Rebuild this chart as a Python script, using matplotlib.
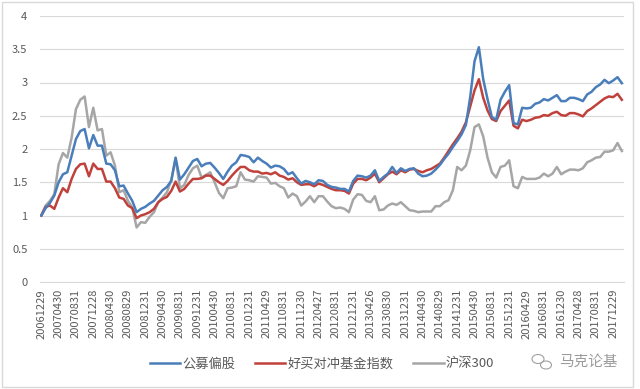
import matplotlib
matplotlib.use("Agg")
import matplotlib.pyplot as plt
from matplotlib.patches import Rectangle, Ellipse
import numpy as np

plt.rcParams['font.family'] = ['Noto Sans CJK SC', 'DejaVu Sans']

series_names = ["公募偏股", "好买对冲基金指数", "沪深300"]

tick_labels = ["20061229", "20070430", "20070831", "20071228", "20080430", "20080829",
               "20081231", "20090430", "20090831", "20091231", "20100430", "20100831",
               "20101231", "20110429", "20110831", "20111230", "20120427", "20120831",
               "20121231", "20130426", "20130830", "20131231", "20140430", "20140829",
               "20141231", "20150430", "20150831", "20151231", "20160429", "20160831",
               "20161230", "20170428", "20170831", "20171229"]

gongmu = [1.00, 1.11, 1.19, 1.30, 1.50, 1.62, 1.65, 1.90, 2.15, 2.27, 2.30, 2.01, 2.21, 2.05,
          2.05, 1.78, 1.77, 1.68, 1.44, 1.45, 1.33, 1.22, 1.05, 1.10, 1.13, 1.18, 1.22, 1.30,
          1.38, 1.43, 1.52, 1.87, 1.54, 1.62, 1.72, 1.82, 1.85, 1.74, 1.78, 1.79, 1.72, 1.64,
          1.55, 1.66, 1.75, 1.80, 1.91, 1.90, 1.88, 1.80, 1.87, 1.82, 1.78, 1.72, 1.75, 1.74,
          1.70, 1.62, 1.65, 1.56, 1.48, 1.52, 1.50, 1.47, 1.53, 1.52, 1.46, 1.43, 1.42, 1.40,
          1.40, 1.36, 1.52, 1.60, 1.59, 1.57, 1.60, 1.68, 1.52, 1.58, 1.63, 1.73, 1.64, 1.71,
          1.67, 1.70, 1.71, 1.63, 1.59, 1.60, 1.63, 1.69, 1.76, 1.85, 1.93, 2.03, 2.12, 2.22,
          2.36, 2.78, 3.32, 3.53, 3.05, 2.75, 2.48, 2.44, 2.74, 2.86, 2.96, 2.39, 2.37, 2.62,
          2.61, 2.62, 2.68, 2.70, 2.75, 2.73, 2.77, 2.81, 2.72, 2.72, 2.77, 2.77, 2.75, 2.72,
          2.82, 2.86, 2.93, 2.97, 3.04, 2.99, 3.03, 3.08, 2.99]

haomai = [1.00, 1.13, 1.15, 1.10, 1.27, 1.41, 1.35, 1.55, 1.70, 1.77, 1.78, 1.59, 1.78, 1.70,
          1.70, 1.51, 1.51, 1.41, 1.27, 1.25, 1.15, 1.11, 0.96, 1.00, 1.02, 1.05, 1.10, 1.20,
          1.25, 1.28, 1.37, 1.51, 1.36, 1.40, 1.48, 1.55, 1.55, 1.56, 1.60, 1.60, 1.55, 1.50,
          1.46, 1.52, 1.60, 1.67, 1.73, 1.73, 1.68, 1.66, 1.66, 1.63, 1.64, 1.62, 1.65, 1.60,
          1.58, 1.54, 1.56, 1.50, 1.46, 1.47, 1.47, 1.44, 1.48, 1.46, 1.43, 1.40, 1.38, 1.38,
          1.37, 1.33, 1.48, 1.55, 1.55, 1.53, 1.57, 1.63, 1.50, 1.56, 1.62, 1.66, 1.62, 1.68,
          1.65, 1.69, 1.70, 1.67, 1.65, 1.68, 1.70, 1.74, 1.78, 1.87, 1.97, 2.07, 2.16, 2.26,
          2.40, 2.64, 2.88, 3.05, 2.77, 2.58, 2.45, 2.42, 2.57, 2.65, 2.73, 2.35, 2.31, 2.44,
          2.42, 2.44, 2.47, 2.48, 2.51, 2.50, 2.54, 2.56, 2.51, 2.50, 2.54, 2.54, 2.52, 2.49,
          2.57, 2.61, 2.66, 2.71, 2.76, 2.79, 2.78, 2.83, 2.74]

hs300 = [1.00, 1.15, 1.22, 1.32, 1.77, 1.94, 1.87, 2.17, 2.60, 2.74, 2.79, 2.33, 2.62, 2.28,
         2.30, 1.90, 1.95, 1.75, 1.35, 1.38, 1.22, 1.12, 0.82, 0.90, 0.89, 0.98, 1.05, 1.20,
         1.27, 1.35, 1.53, 1.86, 1.41, 1.46, 1.61, 1.71, 1.75, 1.57, 1.61, 1.65, 1.50, 1.34,
         1.26, 1.41, 1.42, 1.44, 1.65, 1.54, 1.53, 1.51, 1.59, 1.58, 1.57, 1.48, 1.49, 1.44,
         1.41, 1.27, 1.33, 1.29, 1.15, 1.21, 1.29, 1.20, 1.29, 1.29, 1.21, 1.14, 1.11, 1.12,
         1.10, 1.05, 1.24, 1.32, 1.31, 1.22, 1.20, 1.29, 1.08, 1.09, 1.15, 1.18, 1.16, 1.20,
         1.14, 1.08, 1.07, 1.05, 1.06, 1.06, 1.06, 1.14, 1.14, 1.20, 1.23, 1.38, 1.73, 1.68,
         1.75, 1.98, 2.33, 2.37, 2.19, 1.87, 1.65, 1.57, 1.73, 1.75, 1.83, 1.44, 1.41, 1.58,
         1.55, 1.55, 1.55, 1.57, 1.63, 1.59, 1.63, 1.73, 1.62, 1.66, 1.69, 1.69, 1.68, 1.71,
         1.80, 1.83, 1.87, 1.88, 1.96, 1.96, 1.98, 2.09, 1.97]

colors = ["#4A7EBB", "#C0413B", "#A6A6A6"]

W, H = 640, 389
fig = plt.figure(figsize=(W / 100, H / 100), dpi=100)
ax = fig.add_axes([40 / W, 1 - 282 / H, (624 - 40) / W, (282 - 16) / H])

x = np.arange(len(gongmu))
zorders = [4, 3, 2]
for vals, c, name, z in zip([gongmu, haomai, hs300], colors, series_names, zorders):
    ax.plot(x, vals, color=c, lw=1.8, label=name, solid_joinstyle='round', zorder=z)

ax.set_xlim(-0.3, len(x) - 0.5)
ax.set_ylim(0, 4)
ax.set_yticks(np.arange(0, 4.01, 0.5))
ax.set_yticklabels(["0", "0.5", "1", "1.5", "2", "2.5", "3", "3.5", "4"])
ax.set_xticks(np.arange(0, len(x), 4)[:len(tick_labels)])
ax.set_xticklabels(tick_labels, rotation=90)
ax.tick_params(axis='both', length=0, colors="#595959", labelsize=8)
ax.tick_params(axis='y', pad=9)
ax.tick_params(axis='x', pad=5)
ax.grid(axis='y', color="#D9D9D9", lw=0.8)
ax.set_axisbelow(True)
for s in ['top', 'right', 'left']:
    ax.spines[s].set_visible(False)
ax.spines['bottom'].set_color("#D9D9D9")
ax.spines['bottom'].set_linewidth(0.8)

leg = fig.legend(loc='center', bbox_to_anchor=(322 / W, 1 - 364 / H), ncol=3, frameon=False,
                 fontsize=9.5, handlelength=2.3, columnspacing=1.5, handletextpad=0.15,
                 labelcolor="#595959")

# watermark
fig.text(588 / W, 1 - 362 / H, "马克论基", ha='center', va='center', fontsize=10.5,
         color="#9A9A9A")
fig.add_artist(Ellipse((538 / W, 1 - 359 / H), 12 / W, 9 / H, fill=False, ec="#A0A0A0", lw=0.8,
                       transform=fig.transFigure))
fig.add_artist(Ellipse((546 / W, 1 - 365 / H), 11 / W, 8 / H, fill=False, ec="#A0A0A0", lw=0.8,
                       transform=fig.transFigure))

# chart border
fig.add_artist(Rectangle((2 / W, 2 / H), 631 / W, 385 / H, fill=False, ec="#D9D9D9", lw=1.0,
                         transform=fig.transFigure))

fig.savefig("out.png", dpi=100)
